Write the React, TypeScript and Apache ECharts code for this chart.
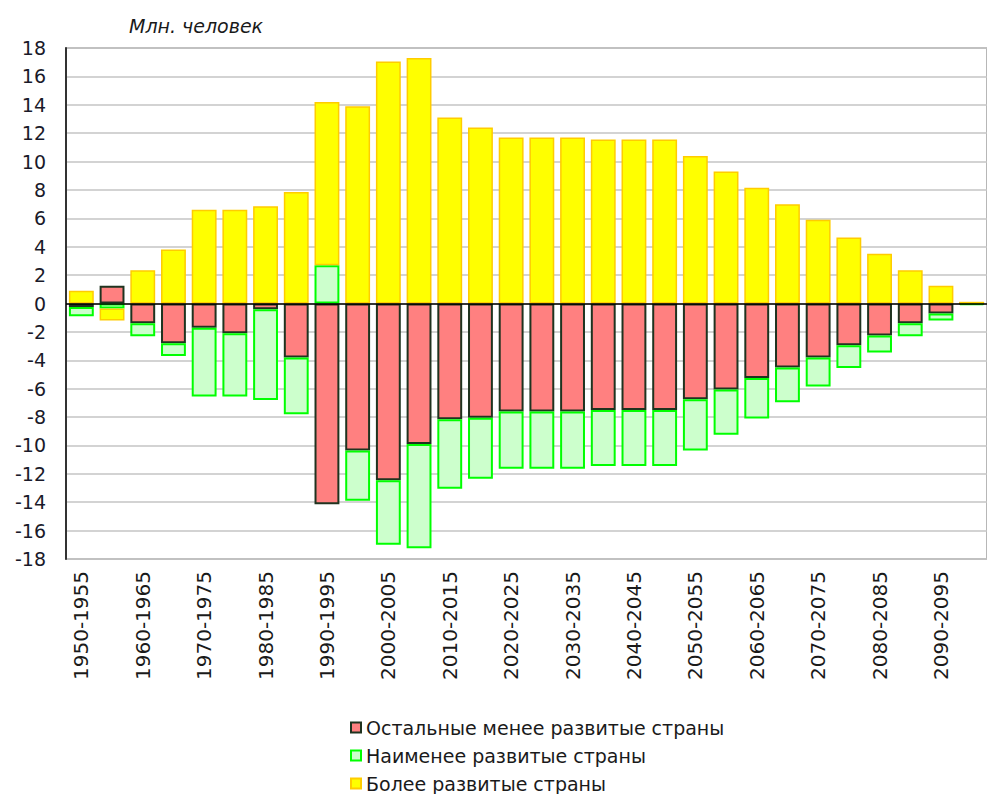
import React, { useEffect, useRef } from "react";
import * as echarts from "echarts";

const categories = [
  "1950-1955", "1955-1960", "1960-1965", "1965-1970", "1970-1975", "1975-1980",
  "1980-1985", "1985-1990", "1990-1995", "1995-2000", "2000-2005", "2005-2010",
  "2010-2015", "2015-2020", "2020-2025", "2025-2030", "2030-2035", "2035-2040",
  "2040-2045", "2045-2050", "2050-2055", "2055-2060", "2060-2065", "2065-2070",
  "2070-2075", "2075-2080", "2080-2085", "2085-2090", "2090-2095", "2095-2100",
];

const otherLessDeveloped = [
  -0.25, 1.25, -1.4, -2.8, -1.7, -2.1, -0.4, -3.8, -14.15, -10.35, -12.45, -9.9,
  -8.15, -8.05, -7.6, -7.6, -7.6, -7.5, -7.5, -7.5, -6.75, -6.05, -5.25, -4.5,
  -3.8, -2.95, -2.25, -1.4, -0.7, 0,
];

const leastDeveloped = [
  -0.65, -0.35, -0.9, -0.9, -4.85, -4.45, -6.4, -4.0, 2.7, -3.55, -4.55, -7.35,
  -4.9, -4.3, -4.05, -4.05, -4.05, -3.95, -3.95, -3.95, -3.6, -3.2, -2.85, -2.45,
  -2.05, -1.6, -1.2, -0.9, -0.5, -0.1,
];

const moreDeveloped = [
  0.9, -0.85, 2.35, 3.8, 6.6, 6.6, 6.85, 7.85, 11.5, 13.9, 17.05, 17.3,
  13.1, 12.4, 11.7, 11.7, 11.7, 11.55, 11.55, 11.55, 10.4, 9.3, 8.15, 7.0,
  5.9, 4.65, 3.5, 2.35, 1.25, 0.12,
];

const seriesNames = [
  "Остальные менее развитые страны",
  "Наименее развитые страны",
  "Более развитые страны",
];

const yTicks = { min: -18, max: 18, interval: 2 };

export default function App() {
  const ref = useRef<HTMLDivElement>(null);

  useEffect(() => {
    if (!ref.current) return;
    const chart = echarts.init(ref.current, null, { renderer: "svg" });
    const font = "DejaVu Sans";
    chart.setOption({
      animation: false,
      backgroundColor: "#ffffff",
      title: {
        text: "Млн. человек",
        left: 124,
        top: 11,
        textStyle: {
          fontFamily: font,
          fontStyle: "italic",
          fontWeight: "normal",
          fontSize: 19,
          color: "#1a1a1a",
        },
      },
      legend: {
        orient: "vertical",
        left: 350,
        top: 718,
        height: 76,
        padding: 0,
        icon: "rect",
        itemWidth: 10,
        itemHeight: 10,
        itemGap: 9,
        itemStyle: { borderWidth: 2 },
        textStyle: {
          fontFamily: font,
          fontSize: 19,
          lineHeight: 19,
          color: "#1a1a1a",
        },
        data: seriesNames,
      },
      grid: {
        left: 66,
        right: -10,
        top: 48,
        bottom: 235,
        show: true,
        borderColor: "#a0a0a0",
        borderWidth: 1.5,
        backgroundColor: "transparent",
      },
      xAxis: {
        type: "category",
        data: categories,
        axisLine: { show: false },
        axisTick: { show: false },
        axisLabel: {
          rotate: 90,
          interval: 1,
          margin: 12,
          fontFamily: font,
          fontSize: 20,
          color: "#1a1a1a",
        },
      },
      yAxis: {
        type: "value",
        min: yTicks.min,
        max: yTicks.max,
        interval: yTicks.interval,
        axisLine: { show: true, lineStyle: { color: "#333333", width: 2 } },
        axisTick: { show: false },
        axisLabel: {
          margin: 20,
          fontFamily: font,
          fontSize: 19,
          color: "#1a1a2a",
        },
        splitLine: { show: true, lineStyle: { color: "#c4c4c4", width: 1.5 } },
      },
      series: [
        {
          name: seriesNames[0],
          type: "bar",
          stack: "total",
          barCategoryGap: "19%",
          data: otherLessDeveloped,
          itemStyle: { color: "#ff8080", borderColor: "#1f331f", borderWidth: 2 },
        },
        {
          name: seriesNames[1],
          type: "bar",
          stack: "total",
          barCategoryGap: "19%",
          data: leastDeveloped,
          itemStyle: { color: "#ccffcc", borderColor: "#00ff00", borderWidth: 2 },
        },
        {
          name: seriesNames[2],
          type: "bar",
          stack: "total",
          barCategoryGap: "19%",
          data: moreDeveloped,
          itemStyle: { color: "#ffff00", borderColor: "#ffcc00", borderWidth: 1.5 },
          markLine: {
            silent: true,
            symbol: "none",
            label: { show: false },
            lineStyle: { color: "#000000", width: 1.5, type: "solid" },
            data: [{ yAxis: 0 }],
          },
        },
      ],
    });
    return () => chart.dispose();
  }, []);

  return (
    <div
      ref={ref}
      style={{ position: "fixed", left: 0, top: 0, width: 987, height: 794 }}
    />
  );
}
